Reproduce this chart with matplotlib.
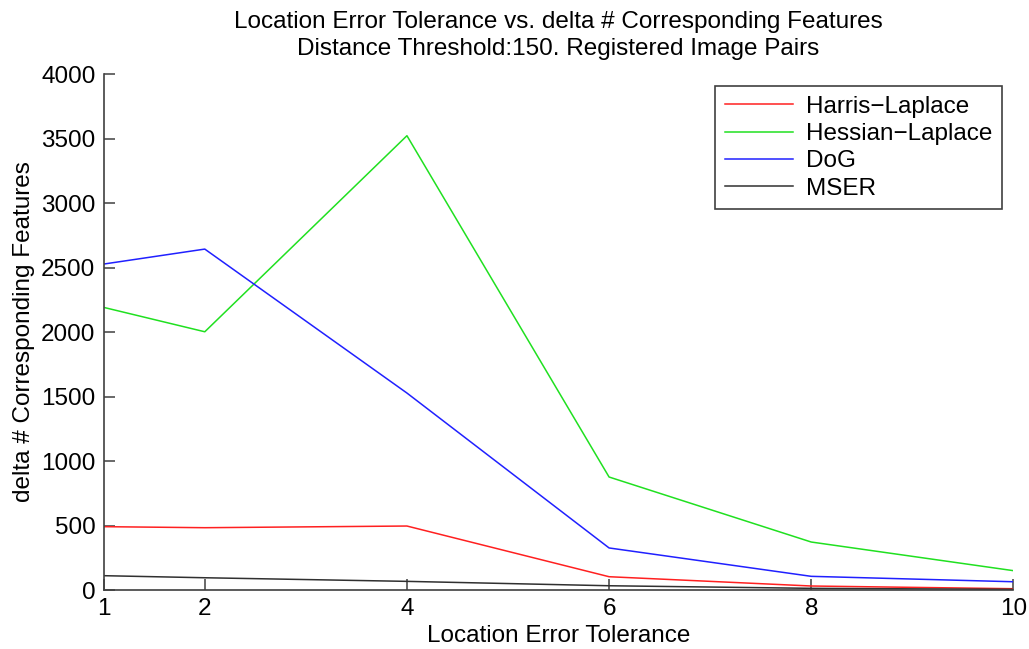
import matplotlib.pyplot as plt
import numpy as np

plt.rcParams["font.family"] = ["Liberation Sans", "DejaVu Sans"]

tolerance = [1, 2, 4, 6, 8, 10]
harris = [491, 483, 496, 103, 31, 10]
hessian = [2191, 2002, 3522, 876, 372, 150]
dog = [2527, 2643, 1527, 326, 106, 64]
mser = [111, 95, 67, 33, 13, 5]

series = [
    ("Harris\u2212Laplace", harris, "#ff2020"),
    ("Hessian\u2212Laplace", hessian, "#20e020"),
    ("DoG", dog, "#2020ff"),
    ("MSER", mser, "#303030"),
]

fig = plt.figure(figsize=(10.29, 6.49), dpi=100)
ax = fig.add_axes([0.1008, 0.0909, 0.884, 0.795])

for name, vals, col in series:
    ax.plot(tolerance, vals, color=col, lw=1.1, label=name)

ax.set_xlim(1, 10)
ax.set_ylim(0, 4000)
ax.set_xticks(tolerance)
ax.set_yticks(np.arange(0, 4001, 500))

for s in ["top", "right"]:
    ax.spines[s].set_visible(False)
for s in ["left", "bottom"]:
    ax.spines[s].set_color("#404040")
    ax.spines[s].set_linewidth(1.2)
ax.tick_params(direction="in", length=8, width=1.1, color="#404040",
               labelsize=17.5, pad=6)

ax.set_xlabel("Location Error Tolerance", fontsize=17.5, labelpad=3)
ax.set_ylabel("delta # Corresponding Features", fontsize=17.5, labelpad=4)
ax.set_title("Location Error Tolerance vs. delta # Corresponding Features\n"
             "Distance Threshold:150. Registered Image Pairs",
             fontsize=17.5, pad=14, linespacing=1.3)

leg = ax.legend(loc="upper right", bbox_to_anchor=(0.9876, 0.977),
                borderaxespad=0, fontsize=17.5,
                fancybox=False, edgecolor="#404040", framealpha=1,
                handlelength=2.8, handletextpad=0.55, labelspacing=0.22,
                borderpad=0.4)
leg.get_frame().set_linewidth(1.2)

plt.savefig("out.png", dpi=100)
